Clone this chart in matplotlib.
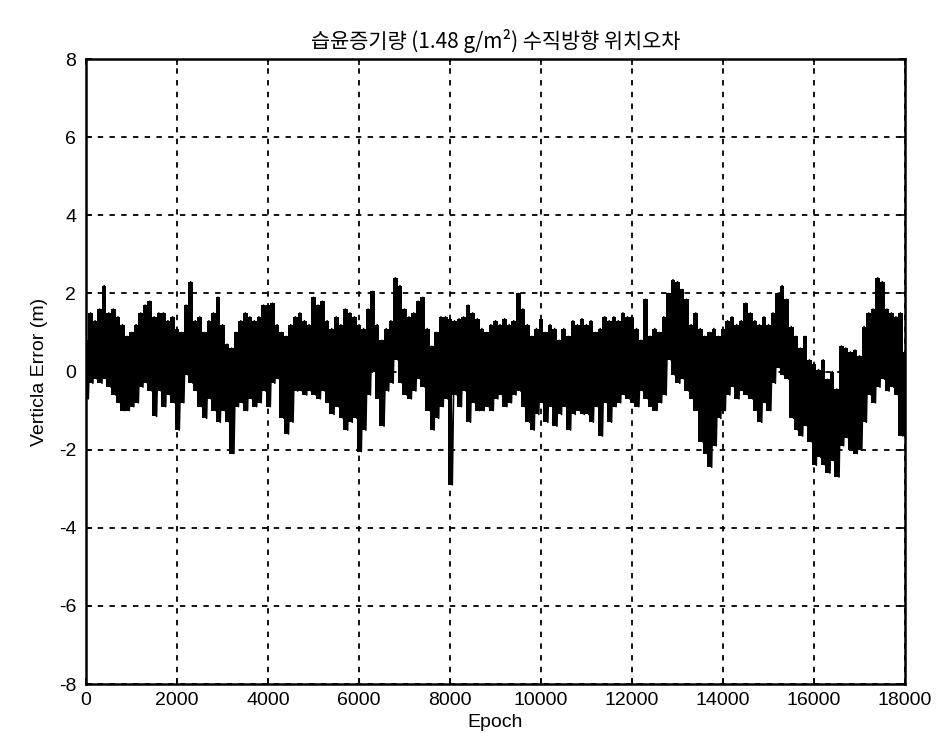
import matplotlib
matplotlib.use("Agg")
import matplotlib.pyplot as plt
import numpy as np

# Envelope of the vertical error signal, read every 100 epochs (upper / lower extremes)
epoch_step = 100
upper = [
    0.8, 1.5, 1.3, 1.6, 2.2, 1.5, 1.6, 1.4, 1.2, 0.9,
    1.0, 1.2, 1.5, 1.7, 1.8, 1.4, 1.5, 1.5, 1.3, 1.4,
    1.1, 1.0, 1.7, 2.3, 1.3, 1.4, 1.0, 1.3, 1.5, 1.9,
    1.2, 0.7, 0.6, 1.0, 1.3, 1.5, 1.4, 1.3, 1.4, 1.7,
    1.7, 1.75, 1.2, 1.0, 0.9, 1.2, 1.4, 1.5, 1.3, 1.2,
    1.9, 1.7, 1.8, 1.3, 1.1, 1.4, 1.2, 1.6, 1.5, 1.4,
    1.2, 1.1, 1.6, 2.05, 1.2, 0.8, 1.1, 1.3, 2.4, 2.2,
    1.6, 1.4, 1.5, 1.8, 1.9, 1.1, 0.65, 1.0, 1.4, 1.4,
    1.35, 1.3, 1.35, 1.4, 1.7, 1.5, 1.35, 1.1, 1.0, 1.2,
    1.3, 1.2, 1.35, 1.2, 1.3, 2.0, 1.6, 1.2, 0.9, 1.1,
    1.35, 1.0, 1.2, 1.1, 0.8, 1.1, 0.9, 1.3, 1.2, 1.35,
    1.2, 1.3, 1.0, 1.1, 1.4, 1.3, 1.4, 1.3, 1.5, 1.4,
    1.4, 1.1, 0.8, 1.85, 0.9, 1.1, 1.0, 1.4, 2.0, 2.35,
    2.3, 2.1, 1.85, 1.2, 1.5, 1.1, 0.9, 1.0, 1.1, 0.9,
    1.1, 1.3, 1.4, 1.2, 1.3, 1.75, 1.5, 1.3, 1.2, 1.4,
    1.2, 1.5, 2.0, 2.2, 1.85, 1.15, 0.9, 0.6, 0.9, 0.3,
    0.2, 0.05, 0.3, -0.2, 0.0, -0.45, 0.65, 0.6, 0.5, 0.55,
    0.4, 1.15, 1.5, 1.6, 2.4, 2.3, 1.6, 1.5, 1.4, 1.5,
    0.5,
]
lower = [
    -0.7, -0.3, -0.2, -0.3, -0.2, -0.4, -0.6, -0.8, -1.0, -1.0,
    -0.9, -0.8, -0.4, -0.3, -0.5, -1.15, -0.5, -0.9, -0.6, -0.8,
    -1.5, -0.8, -0.1, -0.3, -0.5, -0.9, -1.2, -0.7, -1.0, -1.3,
    -1.0, -1.3, -2.1, -0.9, -0.8, -1.0, -0.7, -0.9, -0.8, -0.5,
    -0.9, -0.3, -0.2, -1.2, -1.6, -1.3, -0.5, -0.5, -0.6, -0.5,
    -0.6, -0.7, -0.5, -0.8, -1.1, -0.9, -1.2, -1.5, -1.3, -1.2,
    -2.05, -1.5, -0.6, 0.0, -0.7, -1.4, -0.5, -0.3, 0.3, -0.3,
    -0.6, -0.7, -0.5, -0.2, -0.4, -1.0, -1.5, -1.2, -0.9, -0.7,
    -2.9, -0.6, -0.9, -0.5, -1.3, -0.8, -1.0, -1.0, -0.9, -1.0,
    -0.7, -0.6, -0.9, -0.8, -0.6, -0.5, -0.9, -1.3, -1.5, -1.1,
    -0.8, -1.3, -0.9, -1.4, -1.1, -0.9, -1.5, -1.1, -1.0, -1.1,
    -1.1, -1.3, -0.9, -1.65, -0.8, -1.3, -0.9, -0.8, -0.6, -0.7,
    -0.8, -0.9, -0.5, -0.7, -0.9, -1.0, -0.8, -0.6, 0.3, -0.1,
    -0.3, -0.2, -0.5, -0.7, -1.0, -1.8, -2.1, -2.45, -1.9, -1.2,
    -1.0, -0.6, -0.4, -0.7, -0.5, -0.6, -0.7, -1.0, -1.3, -0.8,
    -1.0, -0.3, 0.1, -0.1, -0.2, -1.2, -1.5, -1.65, -1.4, -1.8,
    -2.4, -2.2, -2.4, -2.6, -2.3, -2.7, -1.9, -1.7, -2.0, -2.1,
    -2.0, -1.3, -0.6, -0.8, -0.4, -0.2, -0.5, -0.4, -0.6, -1.65,
    -1.65,
]

x_ticks = [0, 2000, 4000, 6000, 8000, 10000, 12000, 14000, 16000, 18000]
y_ticks = [-8, -6, -4, -2, 0, 2, 4, 6, 8]
title = "습윤증기량 (1.48 g/m²) 수직방향 위치오차"
x_label = "Epoch"
y_label = "Verticla Error (m)"

n = len(upper)
epochs = np.arange(n) * epoch_step
up = np.array(upper)
lo = np.array(lower)

# zig-zag trace between the extremes (upper at each step, lower half a step later)
xs = np.empty(2 * n)
ys = np.empty(2 * n)
xs[0::2] = epochs
xs[1::2] = epochs + epoch_step / 2
ys[0::2] = up
ys[1::2] = lo
mask = xs <= 18000
xs, ys = xs[mask], ys[mask]

plt.rcParams["font.family"] = ["Liberation Sans", "DejaVu Sans"]

fig = plt.figure(figsize=(9.39, 7.47), dpi=100)
ax = fig.add_axes([0.0916, 0.0843, 0.9638 - 0.0916, 0.921 - 0.0843])

# dense black band of the noisy signal
ax.fill_between(epochs, lo, up, step="mid", color="black", lw=0, zorder=3)
ax.plot(xs, ys, color="black", lw=1.2, zorder=3)

ax.set_xlim(0, 18000)
ax.set_ylim(-8, 8)
ax.set_xticks(x_ticks)
ax.set_yticks(y_ticks)
ax.set_xticklabels([str(t) for t in x_ticks])
ax.set_yticklabels([str(t) for t in y_ticks])
ax.grid(True, color="black", linestyle=(0, (3, 3.5)), linewidth=1.3, zorder=1)
ax.set_axisbelow(True)
ax.tick_params(direction="in", length=4, width=1.2, labelsize=14,
               top=True, right=True)
ax.tick_params(axis="x", pad=6)
ax.tick_params(axis="y", pad=7)
for s in ax.spines.values():
    s.set_linewidth(1.8)
    s.set_zorder(4)

ax.set_xlabel(x_label, fontsize=14, labelpad=3)
ax.set_ylabel(y_label, fontsize=14, labelpad=8)
ax.set_title(title, fontsize=15, pad=8,
             family=["Noto Sans CJK KR", "Liberation Sans", "DejaVu Sans"])

fig.savefig("out.png", dpi=100)
